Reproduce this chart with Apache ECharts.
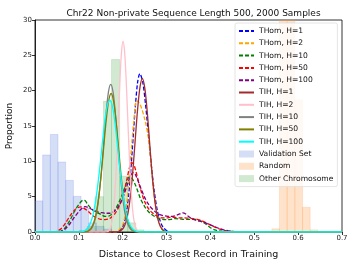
<!DOCTYPE html>
<html><head><meta charset="utf-8">
<script src="https://cdn.jsdelivr.net/npm/echarts@6/dist/echarts.min.js"></script>
<style>html,body{margin:0;padding:0;background:#fff}#c{width:357px;height:268px}</style>
</head><body><div id="c"></div>
<script>
// ---- data ----
const xTicks = [0.0, 0.1, 0.2, 0.3, 0.4, 0.5, 0.6, 0.7];
const yTicks = [0, 5, 10, 15, 20, 25, 30];

const thomH1 = [[0,0],[0.18,0],[0.189,0.05],[0.194,0.25],[0.199,0.64],[0.204,1.5],[0.209,3.0],[0.214,5.6],[0.219,9.2],[0.224,13.6],[0.229,17.9],[0.234,21.2],[0.239,22.4],[0.2457,21.2],[0.2523,17.9],[0.259,13.6],[0.2657,9.2],[0.2723,5.6],[0.279,3.0],[0.2857,1.5],[0.2923,0.64],[0.299,0.25],[0.3057,0.05],[0.315,0],[0.7,0]];
const thomH2 = [[0,0],[0.185,0],[0.19,0.2],[0.195,0.5],[0.2,1.0],[0.205,2.2],[0.21,4.5],[0.215,8.0],[0.22,12.0],[0.225,15.5],[0.232,18.6],[0.24,18.0],[0.25,16.0],[0.258,13.5],[0.265,9.5],[0.272,5.0],[0.28,2.0],[0.29,0.3],[0.3,0],[0.7,0]];
const thomH10 = [[0,0],[0.055,0],[0.06,0.15],[0.07,0.7],[0.08,1.7],[0.09,2.9],[0.1,3.9],[0.11,4.5],[0.115,4.4],[0.12,3.9],[0.13,3.2],[0.14,2.8],[0.15,2.5],[0.16,2.2],[0.17,2.3],[0.18,2.9],[0.19,4.0],[0.2,5.5],[0.21,7.2],[0.215,7.8],[0.22,7.7],[0.23,6.5],[0.24,4.8],[0.25,3.6],[0.26,2.8],[0.27,2.3],[0.28,2.0],[0.29,1.8],[0.3,1.75],[0.31,1.8],[0.32,1.9],[0.33,1.85],[0.34,1.8],[0.35,1.8],[0.36,1.8],[0.37,1.75],[0.38,1.5],[0.39,1.1],[0.4,0.6],[0.41,0.3],[0.42,0.15],[0.43,0.06],[0.45,0],[0.7,0]];
const thomH50 = [[0,0],[0.045,0],[0.05,0.1],[0.06,0.5],[0.07,1.3],[0.08,2.3],[0.09,3.1],[0.1,3.5],[0.105,3.55],[0.11,3.4],[0.12,3.0],[0.13,2.4],[0.14,2.0],[0.15,1.8],[0.16,1.75],[0.17,1.9],[0.18,2.4],[0.19,3.4],[0.2,5.0],[0.21,7.6],[0.215,9.0],[0.22,9.8],[0.225,9.6],[0.23,8.6],[0.24,6.2],[0.25,4.3],[0.26,3.2],[0.27,2.6],[0.28,2.2],[0.29,2.0],[0.3,2.0],[0.31,2.1],[0.32,2.05],[0.33,2.0],[0.34,2.0],[0.35,1.95],[0.36,1.9],[0.37,1.8],[0.38,1.6],[0.39,1.3],[0.4,1.0],[0.41,0.7],[0.42,0.45],[0.43,0.25],[0.44,0.15],[0.45,0.07],[0.46,0.03],[0.48,0],[0.7,0]];
const thomH100 = [[0,0],[0.055,0],[0.06,0.1],[0.07,0.5],[0.08,1.2],[0.09,2.1],[0.1,2.9],[0.11,3.5],[0.115,3.6],[0.12,3.5],[0.13,3.2],[0.14,2.9],[0.15,2.75],[0.16,2.65],[0.17,2.65],[0.18,2.9],[0.19,3.6],[0.2,4.8],[0.21,6.6],[0.22,8.2],[0.225,8.4],[0.23,8.0],[0.24,6.4],[0.25,4.9],[0.26,3.8],[0.27,3.1],[0.28,2.6],[0.29,2.35],[0.3,2.25],[0.31,2.2],[0.32,2.3],[0.33,2.55],[0.337,2.7],[0.345,2.5],[0.35,2.2],[0.36,1.8],[0.37,1.6],[0.38,1.45],[0.39,1.25],[0.4,1.0],[0.41,0.75],[0.42,0.5],[0.43,0.3],[0.44,0.18],[0.45,0.1],[0.46,0.04],[0.48,0],[0.7,0]];

const tihH1 = [[0,0],[0.185,0],[0.1914,0.05],[0.1967,0.24],[0.202,0.62],[0.2074,1.4],[0.2127,2.9],[0.218,5.4],[0.2234,8.9],[0.2287,13.2],[0.234,17.4],[0.2394,20.5],[0.2447,21.7],[0.25,20.5],[0.2554,17.4],[0.2607,13.2],[0.266,8.9],[0.2714,5.4],[0.2767,2.9],[0.282,1.4],[0.2874,0.62],[0.2927,0.24],[0.298,0.05],[0.305,0],[0.7,0]];
const tihH2 = [[0,0],[0.16,0],[0.1658,0.06],[0.1693,0.3],[0.1728,0.77],[0.1763,1.8],[0.1798,3.65],[0.1833,6.7],[0.1868,11.1],[0.1903,16.4],[0.1938,21.6],[0.1973,25.5],[0.2008,27.0],[0.2043,25.5],[0.2078,21.6],[0.2113,16.4],[0.2148,11.1],[0.2183,6.7],[0.2218,3.65],[0.2253,1.8],[0.2288,0.77],[0.2323,0.3],[0.2358,0.06],[0.242,0],[0.7,0]];
const tihH10 = [[0,0],[0.113,0],[0.1194,0.05],[0.1247,0.23],[0.13,0.6],[0.1354,1.4],[0.1407,2.8],[0.146,5.2],[0.1514,8.6],[0.1567,12.7],[0.162,16.7],[0.1674,19.8],[0.1727,20.9],[0.178,19.8],[0.1834,16.7],[0.1887,12.7],[0.194,8.6],[0.1994,5.2],[0.2047,2.8],[0.21,1.4],[0.2154,0.6],[0.2207,0.23],[0.226,0.05],[0.232,0],[0.7,0]];
const tihH50 = [[0,0],[0.11,0],[0.1168,0.05],[0.1225,0.22],[0.1282,0.56],[0.1338,1.3],[0.1395,2.65],[0.1452,4.9],[0.1508,8.05],[0.1565,11.9],[0.1622,15.7],[0.1678,18.5],[0.1735,19.6],[0.1792,18.5],[0.1848,15.7],[0.1905,11.9],[0.1962,8.05],[0.2018,4.9],[0.2075,2.65],[0.2132,1.3],[0.2188,0.56],[0.2245,0.22],[0.2302,0.05],[0.237,0],[0.7,0]];
const tihH100 = [[0,0],[0.1,0],[0.1072,0.05],[0.1135,0.2],[0.1198,0.53],[0.1262,1.24],[0.1325,2.5],[0.1388,4.65],[0.1452,7.7],[0.1515,11.35],[0.1578,15.0],[0.1642,17.7],[0.1705,18.7],[0.1768,17.7],[0.1832,15.0],[0.1895,11.35],[0.1958,7.7],[0.2022,4.65],[0.2085,2.5],[0.2148,1.24],[0.2212,0.53],[0.2275,0.2],[0.2338,0.05],[0.24,0],[0.7,0]];

// histograms: bin edges and heights
const validationEdges = [0, 0.0175, 0.035, 0.0525, 0.07, 0.0875, 0.105, 0.1225, 0.14, 0.1575, 0.175];
const validationHeights = [4.4, 10.9, 13.8, 9.9, 7.3, 5.05, 3.4, 1.3, 0.8, 0.4];
const randomEdges = [0.5225, 0.54, 0.5575, 0.575, 0.5925, 0.61, 0.6275, 0.645];
const randomHeights = [0.1, 0.45, 36, 33, 18.7, 3.5, 0.3];
const otherEdges = [0.1005, 0.119, 0.1375, 0.156, 0.1745, 0.193, 0.2115, 0.23, 0.2485];
const otherHeights = [0.2, 0.8, 5.0, 18.5, 24.4, 7.9, 1.3, 0.3];

// ---- chart ----
const FONT = 'DejaVu Sans';
function lineSeries(name, data, color, dashed) {
  return {
    type: 'line', name, data, showSymbol: false, symbol: 'none', smooth: 0.3,
    lineStyle: { color, width: 1.3, type: dashed ? [4, 2] : 'solid' },
    itemStyle: { color }, emphasis: { disabled: true }, animation: false
  };
}
function histSeries(name, edges, heights, fill, stroke) {
  const data = heights.map((h, i) => [edges[i], edges[i + 1], h]);
  return {
    type: 'custom', name, data, clip: true, animation: false,
    itemStyle: { color: fill },
    encode: { x: [0, 1], y: 2 },
    renderItem: function (params, api) {
      const p0 = api.coord([api.value(0), 0]);
      const p1 = api.coord([api.value(1), api.value(2)]);
      return {
        type: 'rect',
        shape: { x: p0[0], y: p1[1], width: p1[0] - p0[0], height: p0[1] - p1[1] },
        style: { fill, stroke, lineWidth: 0.6 }
      };
    }
  };
}
const lineNames = ['THom, H=1', 'THom, H=2', 'THom, H=10', 'THom, H=50', 'THom, H=100',
  'TIH, H=1', 'TIH, H=2', 'TIH, H=10', 'TIH, H=50', 'TIH, H=100'];

const chart = echarts.init(document.getElementById('c'), null, { renderer: 'canvas' });
chart.setOption({
  animation: false,
  backgroundColor: '#fff',
  title: {
    text: 'Chr22 Non-private Sequence Length 500, 2000 Samples',
    left: 188.5, top: 4, textAlign: 'center',
    textStyle: { fontFamily: FONT, fontSize: 9, fontWeight: 'normal', color: '#111' }
  },
  grid: { left: 35, right: 15, top: 20, bottom: 36, show: true, borderColor: '#000', borderWidth: 0.8,
    backgroundColor: 'transparent', containLabel: false, outerBoundsMode: 'none' },
  xAxis: {
    type: 'value', min: 0, max: 0.7, interval: 0.1,
    name: 'Distance to Closest Record in Training', nameLocation: 'middle', nameGap: 18,
    nameTextStyle: { fontFamily: FONT, fontSize: 9.5, color: '#111' },
    axisLine: { show: true, lineStyle: { color: '#000', width: 0.8 } },
    axisTick: { show: true, inside: false, length: 3, lineStyle: { color: '#000', width: 0.8 } },
    axisLabel: { fontFamily: FONT, fontSize: 7, color: '#222', margin: 3,
      formatter: v => { const t = xTicks.find(k => Math.abs(k - v) < 1e-9); return t === undefined ? '' : t.toFixed(1); } },
    splitLine: { show: false }
  },
  yAxis: {
    type: 'value', min: 0, max: 30, interval: 5,
    name: 'Proportion', nameLocation: 'middle', nameGap: 21, nameMoveOverlap: false,
    nameTextStyle: { fontFamily: FONT, fontSize: 9, color: '#111' },
    axisLine: { show: true, lineStyle: { color: '#000', width: 0.8 } },
    axisTick: { show: true, inside: false, length: 3, lineStyle: { color: '#000', width: 0.8 } },
    axisLabel: { fontFamily: FONT, fontSize: 7, color: '#222', margin: 3,
      formatter: v => yTicks.includes(v) ? String(v) : '' },
    splitLine: { show: false }
  },
  legend: {
    orient: 'vertical', left: 235, top: 23,
    padding: [4, 4, 4, 3], itemGap: 4.3, itemWidth: 15, itemHeight: 7,
    backgroundColor: 'rgba(255,255,255,0.8)', borderColor: '#ddd', borderWidth: 0.8, borderRadius: 2,
    textStyle: { fontFamily: FONT, fontSize: 7.6, color: '#111', lineHeight: 7 },
    data: lineNames.map(n => ({ name: n, itemStyle: { opacity: 0 } })).concat([
      { name: 'Validation Set', icon: 'rect' }, { name: 'Random', icon: 'rect' }, { name: 'Other Chromosome', icon: 'rect' }])
  },
  series: [
    lineSeries('THom, H=1', thomH1, '#0000ff', true),
    lineSeries('THom, H=2', thomH2, '#ffa500', true),
    lineSeries('THom, H=10', thomH10, '#008000', true),
    lineSeries('THom, H=50', thomH50, '#ff0000', true),
    lineSeries('THom, H=100', thomH100, '#800080', true),
    lineSeries('TIH, H=1', tihH1, '#a52a2a', false),
    lineSeries('TIH, H=2', tihH2, '#ffc0cb', false),
    lineSeries('TIH, H=10', tihH10, '#808080', false),
    lineSeries('TIH, H=50', tihH50, '#808000', false),
    lineSeries('TIH, H=100', tihH100, '#00ffff', false),
    histSeries('Validation Set', validationEdges, validationHeights, 'rgba(100,140,220,0.28)', 'rgba(90,100,255,0.3)'),
    histSeries('Random', randomEdges, randomHeights, 'rgba(255,160,80,0.3)', 'rgba(255,160,80,0.35)'),
    histSeries('Other Chromosome', otherEdges, otherHeights, 'rgba(0,128,0,0.18)', 'rgba(0,128,0,0.2)')
  ]
});
</script>
</body></html>
